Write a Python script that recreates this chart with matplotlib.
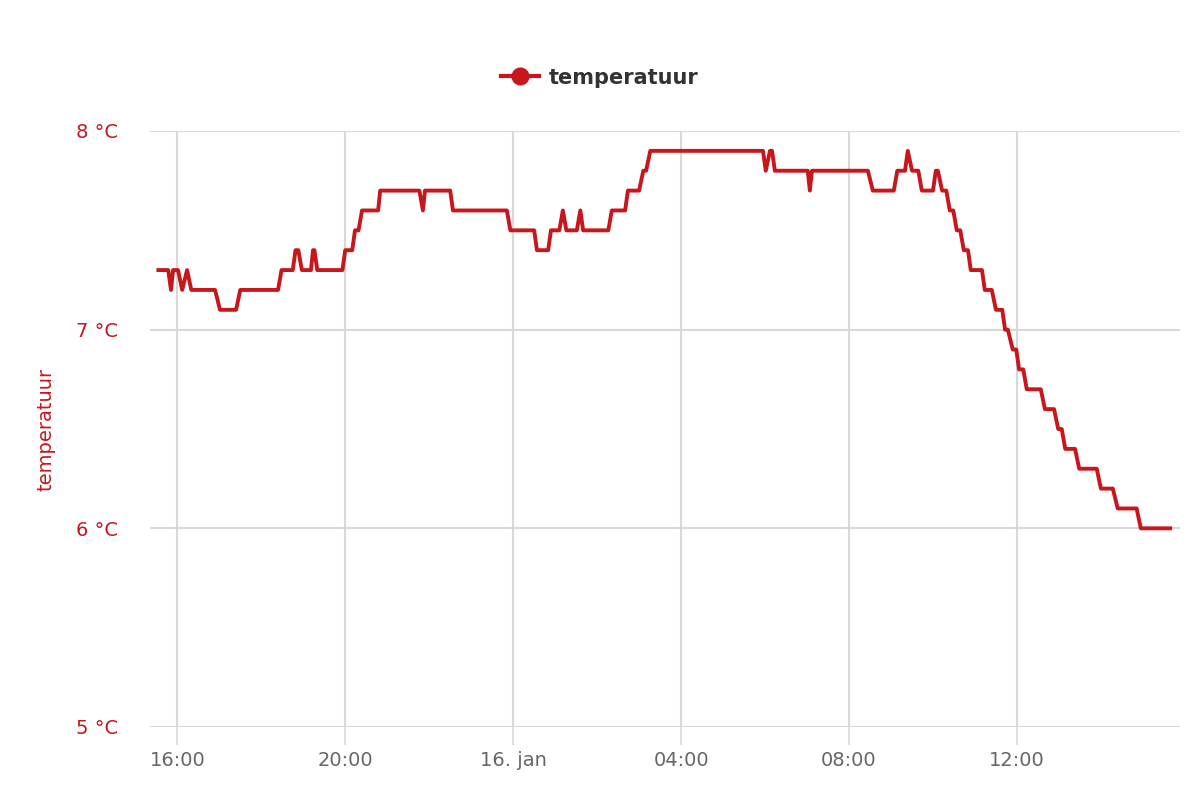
import matplotlib
matplotlib.use("Agg")
import matplotlib.pyplot as plt
import matplotlib.dates as mdates
from matplotlib.lines import Line2D
import pandas as pd

# ---- data ----
times = [
    "01-15 15:33", "01-15 15:47", "01-15 15:51", "01-15 15:54", "01-15 16:01",
    "01-15 16:07", "01-15 16:14", "01-15 16:20", "01-15 16:54", "01-15 17:01",
    "01-15 17:24", "01-15 17:30", "01-15 18:24", "01-15 18:29", "01-15 18:45",
    "01-15 18:49", "01-15 18:53", "01-15 18:58", "01-15 19:11", "01-15 19:14",
    "01-15 19:16", "01-15 19:20", "01-15 19:56", "01-15 20:00", "01-15 20:10",
    "01-15 20:14", "01-15 20:19", "01-15 20:24", "01-15 20:47", "01-15 20:50",
    "01-15 21:46", "01-15 21:51", "01-15 21:54", "01-15 22:30", "01-15 22:34",
    "01-15 23:51", "01-15 23:56", "01-16 00:30", "01-16 00:34", "01-16 00:50",
    "01-16 00:54", "01-16 01:06", "01-16 01:11", "01-16 01:16", "01-16 01:31",
    "01-16 01:36", "01-16 01:40", "01-16 02:16", "01-16 02:21", "01-16 02:40",
    "01-16 02:44", "01-16 03:00", "01-16 03:06", "01-16 03:10", "01-16 03:16",
    "01-16 05:57", "01-16 06:01", "01-16 06:07", "01-16 06:10", "01-16 06:14",
    "01-16 07:01", "01-16 07:04", "01-16 07:07", "01-16 08:27", "01-16 08:34",
    "01-16 09:04", "01-16 09:09", "01-16 09:20", "01-16 09:24", "01-16 09:30",
    "01-16 09:39", "01-16 09:44", "01-16 10:00", "01-16 10:04", "01-16 10:07",
    "01-16 10:13", "01-16 10:19", "01-16 10:24", "01-16 10:29", "01-16 10:34",
    "01-16 10:39", "01-16 10:44", "01-16 10:50", "01-16 10:54", "01-16 11:10",
    "01-16 11:14", "01-16 11:24", "01-16 11:30", "01-16 11:39", "01-16 11:43",
    "01-16 11:47", "01-16 11:54", "01-16 11:59", "01-16 12:03", "01-16 12:09",
    "01-16 12:14", "01-16 12:34", "01-16 12:40", "01-16 12:53", "01-16 12:59",
    "01-16 13:04", "01-16 13:09", "01-16 13:23", "01-16 13:29", "01-16 13:54",
    "01-16 14:00", "01-16 14:17", "01-16 14:24", "01-16 14:51", "01-16 14:57",
    "01-16 15:39",
]
temperatuur = [
    7.3, 7.3, 7.2, 7.3, 7.3,
    7.2, 7.3, 7.2, 7.2, 7.1,
    7.1, 7.2, 7.2, 7.3, 7.3,
    7.4, 7.4, 7.3, 7.3, 7.4,
    7.4, 7.3, 7.3, 7.4, 7.4,
    7.5, 7.5, 7.6, 7.6, 7.7,
    7.7, 7.6, 7.7, 7.7, 7.6,
    7.6, 7.5, 7.5, 7.4, 7.4,
    7.5, 7.5, 7.6, 7.5, 7.5,
    7.6, 7.5, 7.5, 7.6, 7.6,
    7.7, 7.7, 7.8, 7.8, 7.9,
    7.9, 7.8, 7.9, 7.9, 7.8,
    7.8, 7.7, 7.8, 7.8, 7.7,
    7.7, 7.8, 7.8, 7.9, 7.8,
    7.8, 7.7, 7.7, 7.8, 7.8,
    7.7, 7.7, 7.6, 7.6, 7.5,
    7.5, 7.4, 7.4, 7.3, 7.3,
    7.2, 7.2, 7.1, 7.1, 7.0,
    7.0, 6.9, 6.9, 6.8, 6.8,
    6.7, 6.7, 6.6, 6.6, 6.5,
    6.5, 6.4, 6.4, 6.3, 6.3,
    6.2, 6.2, 6.1, 6.1, 6.0,
    6.0,
]
x_ticks = ["01-15 16:00", "01-15 20:00", "01-16 00:00", "01-16 04:00",
           "01-16 08:00", "01-16 12:00"]
x_tick_labels = ["16:00", "20:00", "16. jan", "04:00", "08:00", "12:00"]
y_ticks = [5, 6, 7, 8]
y_tick_labels = ["5 °C", "6 °C", "7 °C", "8 °C"]
series_name = "temperatuur"
x_range = ["01-15 15:21", "01-16 15:53"]

YEAR = "2024-"
t = pd.to_datetime([YEAR + s for s in times])
xt = pd.to_datetime([YEAR + s for s in x_ticks])
xr = pd.to_datetime([YEAR + s for s in x_range])

RED = "#c8161d"
GRID = "#d8d8d8"

plt.rcParams["font.family"] = ["DejaVu Sans"]
fig = plt.figure(figsize=(12, 8), dpi=100)
ax = fig.add_axes([0.125, 0.09125, 0.85833, 0.745])

ax.plot(t, temperatuur, color=RED, lw=2.8, solid_joinstyle="round", zorder=3)

ax.set_ylim(5, 8)
ax.set_xlim(xr[0], xr[1])
ax.set_yticks(y_ticks)
ax.set_yticklabels(y_tick_labels)
ax.set_xticks(mdates.date2num(xt))
ax.set_xticklabels(x_tick_labels)

ax.grid(True, axis="both", color=GRID, lw=1.5, zorder=0)
for s in ax.spines.values():
    s.set_visible(False)
ax.axhline(5, color=GRID, lw=1.5, zorder=1)

ax.tick_params(axis="y", length=0, pad=23, labelsize=14, labelcolor=RED)
ax.tick_params(axis="x", length=13, width=1.2, color=GRID, direction="out",
               pad=4, labelsize=14, labelcolor="#666666")

ax.set_ylabel(series_name, color=RED, fontsize=14, labelpad=15)

handle = Line2D([0], [0], color=RED, lw=3, marker="o", markersize=12,
                markerfacecolor=RED, markeredgecolor=RED)
leg = fig.legend([handle], [series_name], loc="center", bbox_to_anchor=(0.5, 0.903),
                 frameon=False, handlelength=1.8, handletextpad=0.5,
                 prop={"size": 15, "weight": "bold"})
for txt in leg.get_texts():
    txt.set_color("#333333")

fig.savefig("out.png", dpi=100, facecolor="white")
